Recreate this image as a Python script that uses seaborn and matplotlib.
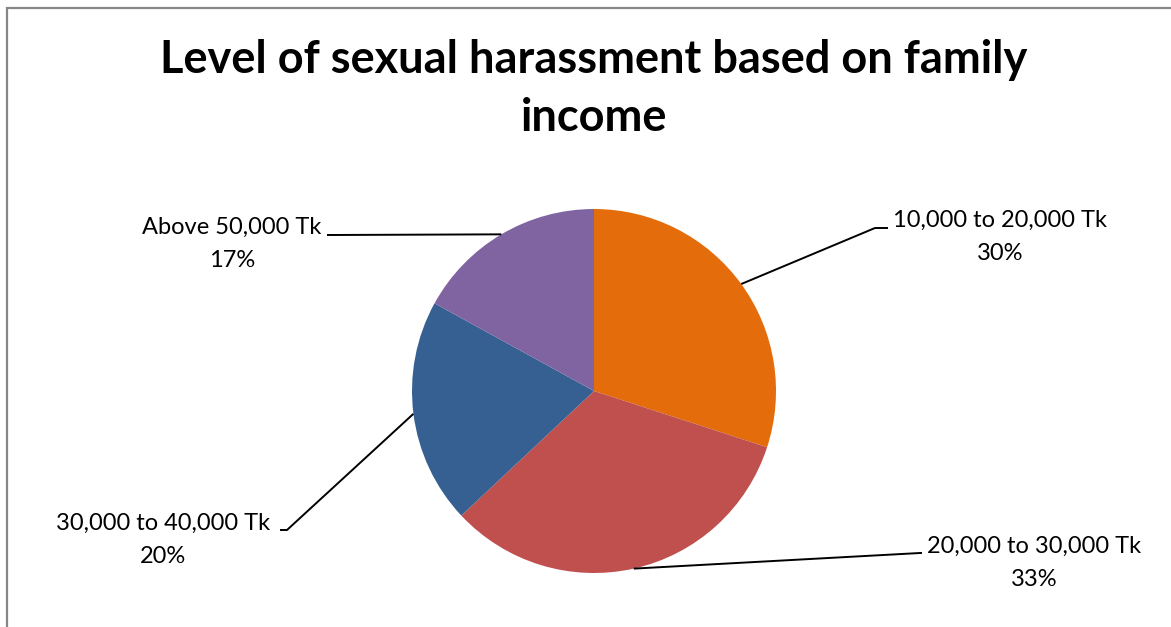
import numpy as np
import matplotlib
matplotlib.use("Agg")
import matplotlib.pyplot as plt
import seaborn as sns
from matplotlib.patches import Rectangle

# Data
categories = ["10,000 to 20,000 Tk", "20,000 to 30,000 Tk",
              "30,000 to 40,000 Tk", "Above 50,000 Tk"]
shares = [30, 33, 20, 17]
colors = ["#E46C0A", "#C0504D", "#366092", "#8064A2"]

title = "Level of sexual harassment based on family\nincome"

sns.set_style("white")
plt.rcParams['font.family'] = ['Lato', 'DejaVu Sans']

W, H = 1171, 627
fig = plt.figure(figsize=(W / 100, H / 100), dpi=100)

# pie centre / radius in pixels
cx, cy, r = 594, 391, 182
ax = fig.add_axes([(cx - r) / W, (H - cy - r) / H, 2 * r / W, 2 * r / H])
wedges, _ = ax.pie(shares, colors=colors, startangle=90, counterclock=False,
                   radius=1, wedgeprops=dict(linewidth=0))
ax.set_xlim(-1, 1)
ax.set_ylim(-1, 1)
ax.axis("off")


def to_data(px, py):
    return (px - cx) / r, (cy - py) / r


# label layout: (text centre px, elbow px, line end px)
label_pos = [
    ((1000, 237), (875, 228), (888, 228)),
    ((1034, 563), (920, 553), (922, 553)),
    ((163, 540), (287, 530), (280, 530)),
    ((232, 244), (330, 235), (327, 235)),
]

for w, name, pct, (txt, elbow, end) in zip(wedges, categories, shares, label_pos):
    mid = np.deg2rad((w.theta1 + w.theta2) / 2)
    ax_x, ax_y = np.cos(mid), np.sin(mid)
    ex, ey = to_data(*elbow)
    lx, ly = to_data(*end)
    ax.plot([ax_x, ex, lx], [ax_y, ey, ly], color="black", lw=1.4,
            clip_on=False, solid_capstyle="butt")
    tx, ty = to_data(*txt)
    ax.text(tx, ty, f"{name}\n{pct}%", ha="center", va="center",
            fontsize=17, linespacing=1.75, color="black")

fig.text(594 / W, 1 - 89 / H, title, ha="center", va="center",
         fontsize=32.5, fontweight="bold", linespacing=1.45, color="black")

# chart border (cut off at right and bottom)
fig.patches.append(Rectangle((7 / W, -0.1), 1.2, 1 - 8 / H + 0.1,
                             transform=fig.transFigure, fill=False,
                             edgecolor="#878787", linewidth=1.6))

fig.savefig("out.png", dpi=100)
